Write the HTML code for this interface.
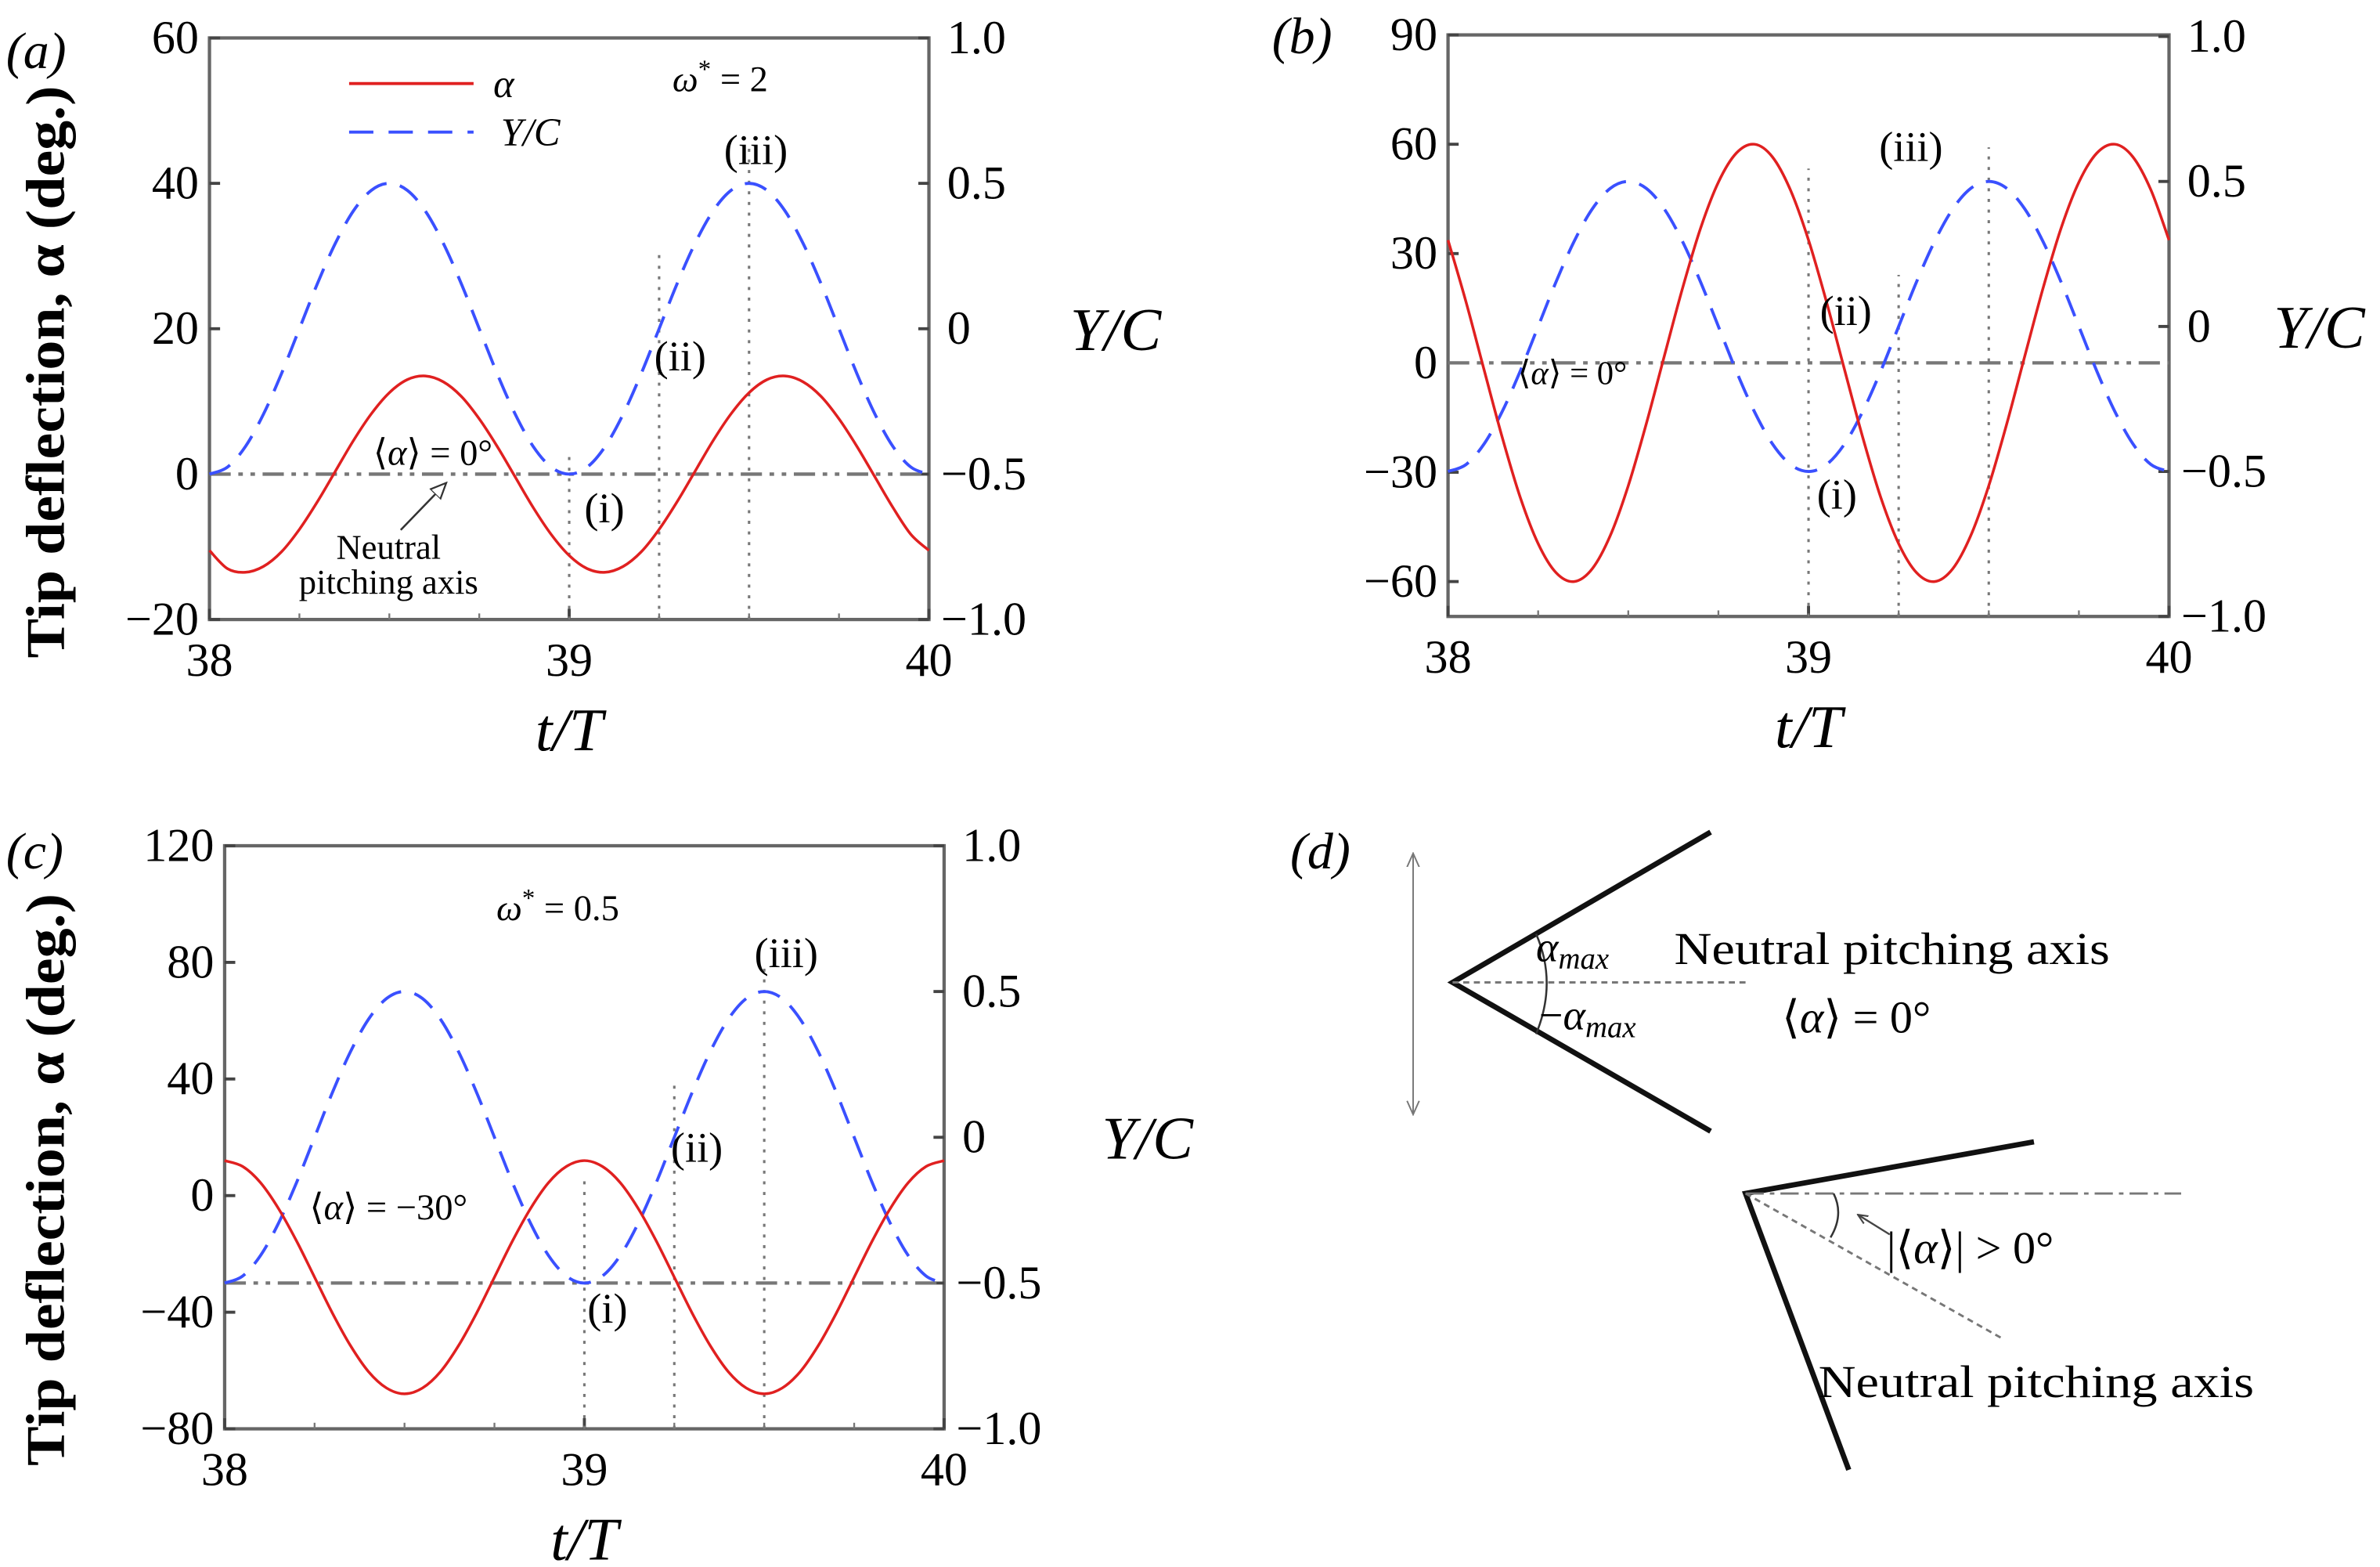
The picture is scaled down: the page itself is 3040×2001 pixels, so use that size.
<!DOCTYPE html>
<html><head><meta charset="utf-8"><style>
html,body{margin:0;padding:0;background:#fff;}
svg{display:block;}
text{font-family:"Liberation Serif","DejaVu Serif",serif;fill:#000;}
.tk{font-size:31px;}
.it{font-style:italic;}
</style></head><body>
<svg id="fig" xmlns="http://www.w3.org/2000/svg" width="3040" height="2001" viewBox="0 0 1568 1032" preserveAspectRatio="none">
<defs>
<marker id="openarrow" viewBox="0 0 10 10" refX="9" refY="5" markerWidth="9" markerHeight="9" orient="auto"><path d="M0,1 L9,5 L0,9 Z" fill="#fff" stroke="#333" stroke-width="1"/></marker>
<marker id="smallarrow" viewBox="0 0 10 10" refX="9" refY="5" markerWidth="6" markerHeight="6" orient="auto"><path d="M0,1 L9,5 L0,9" fill="none" stroke="#444" stroke-width="1.5"/></marker>
<marker id="dblarrow" viewBox="0 0 10 10" refX="9" refY="5" markerWidth="10" markerHeight="10" orient="auto-start-reverse"><path d="M0,1 L9,5 L0,9" fill="none" stroke="#777" stroke-width="1"/></marker>
</defs>
<g id="charts"></g>

<text x="4" y="45" font-size="34" class="it">(a)</text>
<g>
<line x1="230" y1="55" x2="312" y2="55" stroke="#e02020" stroke-width="2"/>
<text x="325" y="64" font-size="26" class="it">α</text>
<line x1="230" y1="87" x2="312" y2="87" stroke="#3a50ff" stroke-width="2" stroke-dasharray="16,10"/>
<text x="330" y="96" font-size="26" class="it">Y/C</text>
</g>
<text x="443" y="60" font-size="24"><tspan class="it">ω</tspan><tspan dy="-9" font-size="17">*</tspan><tspan dy="9"> = 2</tspan></text>
<text x="477" y="108" font-size="28">(iii)</text>
<text x="431" y="244" font-size="28">(ii)</text>
<text x="385" y="344" font-size="28">(i)</text>
<text x="246" y="306" font-size="24">⟨<tspan class="it">α</tspan>⟩ = 0°</text>
<line x1="264" y1="349" x2="294" y2="318" stroke="#333" stroke-width="1.3" marker-end="url(#openarrow)"/>
<text x="256" y="368" font-size="23" text-anchor="middle">Neutral</text>
<text x="256" y="391" font-size="23" text-anchor="middle">pitching axis</text>

<text x="838" y="35" font-size="34" class="it">(b)</text>
<text x="1238" y="106" font-size="28">(iii)</text>
<text x="1199" y="214" font-size="28">(ii)</text>
<text x="1197" y="335" font-size="28">(i)</text>
<text x="1000" y="253" font-size="22">⟨<tspan class="it">α</tspan>⟩ = 0°</text>

<text x="4" y="572" font-size="34" class="it">(c)</text>
<text x="327" y="606" font-size="24"><tspan class="it">ω</tspan><tspan dy="-9" font-size="17">*</tspan><tspan dy="9"> = 0.5</tspan></text>
<text x="497" y="637" font-size="28">(iii)</text>
<text x="442" y="765" font-size="28">(ii)</text>
<text x="387" y="871" font-size="28">(i)</text>
<text x="204" y="803" font-size="24">⟨<tspan class="it">α</tspan>⟩ = −30°</text>

<g>
<text x="850" y="572" font-size="34" class="it">(d)</text>
<line x1="931" y1="562" x2="931" y2="734" stroke="#777" stroke-width="1" marker-start="url(#dblarrow)" marker-end="url(#dblarrow)"/>
<polyline points="1127,548 957,647 1127,745" fill="none" stroke="#111" stroke-width="3.5"/>
<line x1="957" y1="647" x2="1150" y2="647" stroke="#777" stroke-width="1.5" stroke-dasharray="4,3"/>
<path d="M1012,615 Q1026,647 1012,681" fill="none" stroke="#333" stroke-width="1.3"/>
<text x="1012" y="633" font-size="28" class="it">α<tspan font-size="20" dy="5">max</tspan></text>
<text x="1014" y="678" font-size="28">−<tspan class="it">α</tspan><tspan font-size="20" dy="5" class="it">max</tspan></text>
<text x="1103" y="635" font-size="30" textLength="287" lengthAdjust="spacingAndGlyphs">Neutral pitching axis</text>
<text x="1174" y="680" font-size="30">⟨<tspan class="it">α</tspan>⟩ = 0°</text>
<polyline points="1340,752 1150,786 1218,968" fill="none" stroke="#111" stroke-width="3.5"/>
<line x1="1150" y1="786" x2="1437" y2="786" stroke="#777" stroke-width="1.5" stroke-dasharray="12,4,3,4"/>
<line x1="1150" y1="786" x2="1320" y2="882" stroke="#777" stroke-width="1.5" stroke-dasharray="4,3"/>
<path d="M1208,786 Q1215,800 1206,815" fill="none" stroke="#333" stroke-width="1.3"/>
<line x1="1245" y1="813" x2="1224" y2="800" stroke="#444" stroke-width="1.2" marker-end="url(#smallarrow)"/>
<text x="1243" y="832" font-size="30">|⟨<tspan class="it">α</tspan>⟩| &gt; 0°</text>
<text x="1198" y="920" font-size="30" textLength="287" lengthAdjust="spacingAndGlyphs">Neutral pitching axis</text>
</g>
</svg>

<script>
const times = [38,38.05,38.1,38.15,38.2,38.25,38.3,38.35,38.4,38.45,38.5,38.55,38.6,38.65,38.7,38.75,38.8,38.85,38.9,38.95,39,39.05,39.1,39.15,39.2,39.25,39.3,39.35,39.4,39.45,39.5,39.55,39.6,39.65,39.7,39.75,39.8,39.85,39.9,39.95,40];
const alphaA = [-10.5,-13.0,-13.5,-12.7,-10.7,-7.6,-3.8,0.4,4.6,8.3,11.2,13.0,13.5,12.7,10.7,7.6,3.8,-0.4,-4.6,-8.3,-11.2,-13.0,-13.5,-12.7,-10.7,-7.6,-3.8,0.4,4.6,8.3,11.2,13.0,13.5,12.7,10.7,7.6,3.8,-0.4,-4.6,-8.3,-10.5];
const ycA = [-0.5,-0.476,-0.405,-0.294,-0.155,0,0.155,0.294,0.405,0.476,0.5,0.476,0.405,0.294,0.155,0,-0.155,-0.294,-0.405,-0.476,-0.5,-0.476,-0.405,-0.294,-0.155,0,0.155,0.294,0.405,0.476,0.5,0.476,0.405,0.294,0.155,0,-0.155,-0.294,-0.405,-0.476,-0.5];
const alphaB = [33.7,16.7,-1.9,-20.3,-36.8,-49.6,-57.6,-60.0,-56.5,-47.4,-33.7,-16.7,1.9,20.3,36.8,49.6,57.6,60.0,56.5,47.4,33.7,16.7,-1.9,-20.3,-36.8,-49.6,-57.6,-60.0,-56.5,-47.4,-33.7,-16.7,1.9,20.3,36.8,49.6,57.6,60.0,56.5,47.4,33.7];
const ycB = [-0.5,-0.476,-0.405,-0.294,-0.155,0,0.155,0.294,0.405,0.476,0.5,0.476,0.405,0.294,0.155,0,-0.155,-0.294,-0.405,-0.476,-0.5,-0.476,-0.405,-0.294,-0.155,0,0.155,0.294,0.405,0.476,0.5,0.476,0.405,0.294,0.155,0,-0.155,-0.294,-0.405,-0.476,-0.5];
const alphaC = [12,10.0,4.4,-4.5,-15.6,-28,-40.4,-51.5,-60.4,-66.0,-68,-66.0,-60.4,-51.5,-40.4,-28,-15.6,-4.5,4.4,10.0,12,10.0,4.4,-4.5,-15.6,-28,-40.4,-51.5,-60.4,-66.0,-68,-66.0,-60.4,-51.5,-40.4,-28,-15.6,-4.5,4.4,10.0,12];
const ycC = [-0.5,-0.476,-0.405,-0.294,-0.155,0,0.155,0.294,0.405,0.476,0.5,0.476,0.405,0.294,0.155,0,-0.155,-0.294,-0.405,-0.476,-0.5,-0.476,-0.405,-0.294,-0.155,0,0.155,0.294,0.405,0.476,0.5,0.476,0.405,0.294,0.155,0,-0.155,-0.294,-0.405,-0.476,-0.5];
const xTicks = [38,39,40];
const leftTicksA = [60,40,20,0,-20];
const leftTicksB = [90,60,30,0,-30,-60];
const leftTicksC = [120,80,40,0,-40,-80];
const rightTicks = [1,0.5,0,-0.5,-1];
const rightTickLabels = ["1.0","0.5","0","\u22120.5","\u22121.0"];
const markerTimes = [39,39.25,39.5];
const meanA = 0, meanB = 0, meanC = -30;

const NS = "http://www.w3.org/2000/svg";
const root = document.getElementById("charts");
function mk(tag, attrs, parent){
  const e = document.createElementNS(NS, tag);
  for (const k in attrs) e.setAttribute(k, attrs[k]);
  (parent||root).appendChild(e);
  return e;
}
function lin(d0,d1,r0,r1){ return v => r0 + (v-d0)*(r1-r0)/(d1-d0); }
function smoothPath(pts){
  let d = "M"+pts[0][0].toFixed(2)+","+pts[0][1].toFixed(2);
  for (let i=0;i<pts.length-1;i++){
    const p0=pts[Math.max(0,i-1)], p1=pts[i], p2=pts[i+1], p3=pts[Math.min(pts.length-1,i+2)];
    const c1=[p1[0]+(p2[0]-p0[0])/6, p1[1]+(p2[1]-p0[1])/6];
    const c2=[p2[0]-(p3[0]-p1[0])/6, p2[1]-(p3[1]-p1[1])/6];
    d += " C"+c1[0].toFixed(2)+","+c1[1].toFixed(2)+" "+c2[0].toFixed(2)+","+c2[1].toFixed(2)+" "+p2[0].toFixed(2)+","+p2[1].toFixed(2);
  }
  return d;
}
function fmt(v){ return v<0 ? "\u2212"+Math.abs(v) : String(v); }

function panel(cfg){
  const g = mk("g", {});
  
  
  const X = lin(38,40,cfg.x0,cfg.x1);
  const YL = lin(cfg.l0,cfg.l1,cfg.ly0,cfg.ly1);
  const YR = lin(1,-1,cfg.ry0,cfg.ry1);
  const fr = mk("rect", {x:cfg.x0, y:cfg.top, width:cfg.x1-cfg.x0, height:cfg.bot-cfg.top, fill:"none", stroke:"#666", "stroke-width":2.2}, g);
  
  
  xTicks.forEach(t=>{
    const x = X(t);
    const tl = mk("line", {x1:x,y1:cfg.bot,x2:x,y2:cfg.bot-7,stroke:"#444","stroke-width":2}, g);
    
    
    const tx = mk("text", {x:x, y:cfg.bot+37, "text-anchor":"middle", class:"tk"}, g);
    tx.textContent = t;
    
    
  });
  for (let k=0;k<8;k++){
    const t = 38 + k*0.25;
    if (k%4===0) continue;
    const ml = mk("line", {x1:X(t),y1:cfg.bot,x2:X(t),y2:cfg.bot-4,stroke:"#777","stroke-width":1.2}, g);
    
    
  }
  cfg.lt.forEach(v=>{
    const y = YL(v);
    const tl = mk("line", {x1:cfg.x0,y1:y,x2:cfg.x0+7,y2:y,stroke:"#444","stroke-width":2}, g);
    
    
    const tx = mk("text", {x:cfg.x0-7, y:y+10, "text-anchor":"end", class:"tk"}, g);
    tx.textContent = fmt(v);
    
    
  });
  rightTicks.forEach((v,i)=>{
    const y = YR(v);
    const tl = mk("line", {x1:cfg.x1,y1:y,x2:cfg.x1-7,y2:y,stroke:"#444","stroke-width":2}, g);
    
    
    const tx = mk("text", {x:cfg.x1+(v<0?8:12), y:y+10, class:"tk"}, g);
    tx.textContent = rightTickLabels[i];
    
    
  });
  const ml = mk("line", {x1:cfg.x0,y1:YL(cfg.mean),x2:cfg.x1,y2:YL(cfg.mean),stroke:"#777","stroke-width":2.2,"stroke-dasharray":"14,5,3,5,3,5"}, g);
  
  
  markerTimes.forEach((t,i)=>{
    const vl = mk("line", {x1:X(t),y1:cfg.bot,x2:X(t),y2:cfg.mtop[i],stroke:"#777","stroke-width":1.6,"stroke-dasharray":"2,5"}, g);
    
    
  });
  const yc = mk("path", {d:smoothPath(times.map((t,i)=>[X(t),YR(cfg.yc[i])])), fill:"none", stroke:"#3a50ff","stroke-width":2,"stroke-dasharray":"15,9"}, g);
  
  
  const al = mk("path", {d:smoothPath(times.map((t,i)=>[X(t),YL(cfg.alpha[i])])), fill:"none", stroke:"#e02020","stroke-width":1.8}, g);
  
  
  const xt = mk("text", {x:(cfg.x0+cfg.x1)/2, y:cfg.bot+86, "text-anchor":"middle", "font-size":40, class:"it"}, g);
  xt.textContent = "t/T";
  
  
  const rt = mk("text", {x:cfg.rtx, y:YR(0)+14, "font-size":40, class:"it"}, g);
  rt.textContent = "Y/C";
  
  
  if (cfg.ltitle){
    const lt = mk("text", {x:0,y:0,"font-size":36,"font-weight":"bold","text-anchor":"middle",textLength:377,lengthAdjust:"spacingAndGlyphs",transform:"translate(42,"+cfg.tcy+") rotate(-90)"}, g);
    lt.textContent = "Tip deflection, \u03b1 (deg.)";
    
    
  }
}

panel({id:"panel-a", x0:138,x1:612, top:25, bot:408, l0:60,l1:-20, ly0:25, ly1:408, ry0:25, ry1:408, lt:leftTicksA, alpha:alphaA, yc:ycA, mean:meanA, mtop:[298,165,98], rtx:705, ltitle:true, tcy:245});
panel({id:"panel-b", x0:954,x1:1429, top:23, bot:406, l0:0,l1:60, ly0:239, ly1:95, ry0:24, ry1:406, lt:leftTicksB, alpha:alphaB, yc:ycB, mean:meanB, mtop:[111,181,97], rtx:1498, ltitle:false});
panel({id:"panel-c", x0:148,x1:622, top:557, bot:941, l0:120,l1:-80, ly0:557, ly1:941, ry0:557, ry1:941, lt:leftTicksC, alpha:alphaC, yc:ycC, mean:meanC, mtop:[773,711,638], rtx:726, ltitle:true, tcy:777});
</script>
</body></html>
